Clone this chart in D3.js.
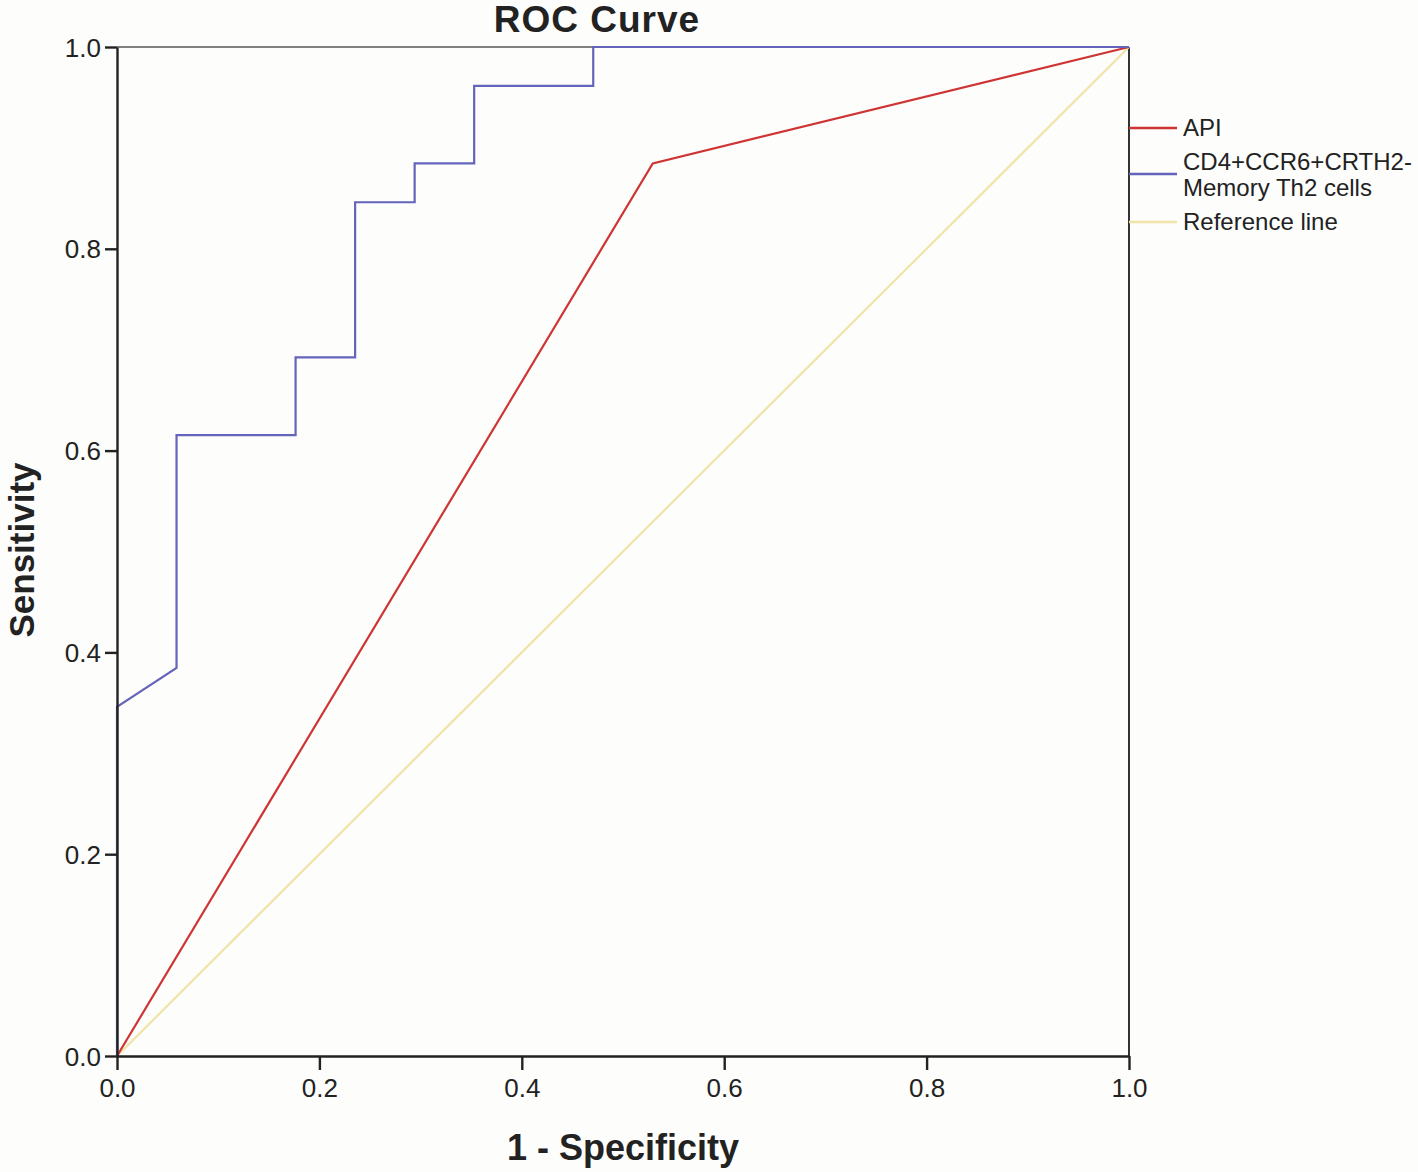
<!DOCTYPE html>
<html><head><meta charset="utf-8">
<script src="https://cdn.jsdelivr.net/npm/d3@7"></script>
<style>body{margin:0;background:#fdfdfc;} svg{display:block;font-family:"Liberation Sans",Arial,sans-serif;}</style>
</head><body>
<svg id="c" width="1418" height="1172"></svg>
<script>
const title = "ROC Curve";
const xLabel = "1 - Specificity";
const yLabel = "Sensitivity";
const tickValues = [0, 0.2, 0.4, 0.6, 0.8, 1.0];
const seriesNames = ["API", "CD4+CCR6+CRTH2-|Memory Th2 cells", "Reference line"];
const seriesColors = ["#cf3434", "#6464bb", "#f0e4a8"];
const apiX = [0, 9/17, 1];
const apiY = [0, 23/26, 1];
const th2X = [0, 0, 1/17, 1/17, 3/17, 3/17, 4/17, 4/17, 5/17, 5/17, 6/17, 6/17, 8/17, 8/17, 1];
const th2Y = [0, 9/26, 10/26, 16/26, 16/26, 18/26, 18/26, 22/26, 22/26, 23/26, 23/26, 25/26, 25/26, 1, 1];
const refX = [0, 1];
const refY = [0, 1];

const svg = d3.select("#c");
const L = 117, R = 1129, T = 47, B = 1056;
const x = d3.scaleLinear().domain([0,1]).range([L,R]);
const y = d3.scaleLinear().domain([0,1]).range([B,T]);

svg.append("line").attr("x1",L).attr("x2",R).attr("y1",T).attr("y2",T).attr("stroke","#808080").attr("stroke-width",2);
svg.append("line").attr("x1",R).attr("x2",R).attr("y1",T).attr("y2",B).attr("stroke","#333").attr("stroke-width",2);

const line = d3.line().x(d=>x(d[0])).y(d=>y(d[1]));
[[refX,refY,2],[apiX,apiY,0],[th2X,th2Y,1]].forEach(([xs,ys,i])=>{
  svg.append("path").datum(d3.zip(xs,ys)).attr("d",line)
    .attr("fill","none").attr("stroke",seriesColors[i]).attr("stroke-width",2.2);
});

const fmt = d3.format(".1f");
const xa = svg.append("g").attr("transform",`translate(0,${B})`)
  .call(d3.axisBottom(x).tickValues(tickValues).tickFormat(fmt).tickSize(14).tickSizeOuter(0));
const ya = svg.append("g").attr("transform",`translate(${L},0)`)
  .call(d3.axisLeft(y).tickValues(tickValues).tickFormat(fmt).tickSize(12).tickSizeOuter(0));
[xa,ya].forEach(a=>{
  a.select(".domain").attr("stroke","#222").attr("stroke-width",2.4);
  a.selectAll(".tick line").attr("stroke","#222").attr("stroke-width",2.4);
  a.selectAll("text").attr("font-size",26).attr("fill","#222").attr("font-family","Liberation Sans, Arial, sans-serif");
});
xa.selectAll("text").attr("dy","0").attr("y",41);
ya.selectAll("text").attr("x",-16).attr("dy","0.35em");

svg.append("text").attr("x",597).attr("y",32).attr("text-anchor","middle")
  .attr("font-size",37).attr("font-weight","bold").attr("letter-spacing",1).attr("fill","#222").text(title);
svg.append("text").attr("x",623).attr("y",1160).attr("text-anchor","middle")
  .attr("font-size",36).attr("font-weight","bold").attr("fill","#222").text(xLabel);
svg.append("text").attr("transform","translate(34,550) rotate(-90)").attr("text-anchor","middle")
  .attr("font-size",35).attr("font-weight","bold").attr("fill","#222").text(yLabel);

const legY = [128, 174, 222];
seriesNames.forEach((n,i)=>{
  svg.append("line").attr("x1",R).attr("x2",R+48).attr("y1",legY[i]).attr("y2",legY[i])
    .attr("stroke",seriesColors[i]).attr("stroke-width",2.5);
  const parts = n.split("|");
  const offs = parts.length===1 ? [0] : [-12, 14];
  parts.forEach((p,j)=>{
    svg.append("text").attr("x",R+54).attr("y",legY[i]+offs[j]).attr("dy","0.35em")
      .attr("font-size",24).attr("fill","#222").text(p);
  });
});
</script>
</body></html>
